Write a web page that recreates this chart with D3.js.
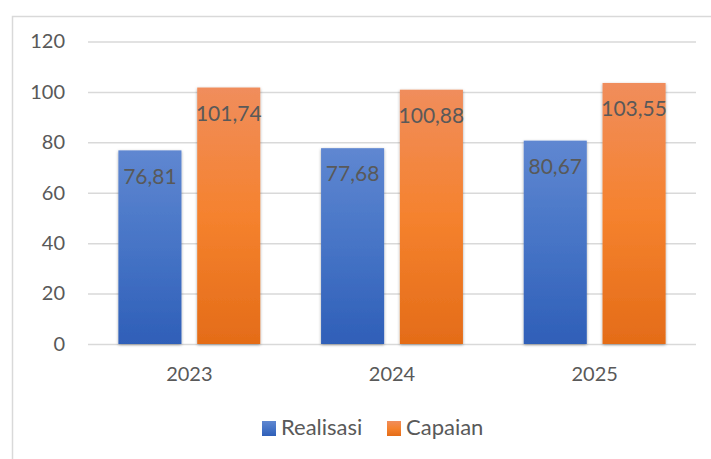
<!DOCTYPE html>
<html>
<head>
<meta charset="utf-8">
<script src="https://cdn.jsdelivr.net/npm/d3@7"></script>
<style>
  body { margin: 0; background: #fff; }
  svg text { font-family: Lato, "Open Sans", sans-serif; fill: #595959; }
</style>
</head>
<body>
<div id="chart"></div>
<script>
// Data
var years = ["2023", "2024", "2025"];
var seriesNames = ["Realisasi", "Capaian"];
var realisasi = [76.81, 77.68, 80.67];
var capaian = [101.74, 100.88, 103.55];
var yTicks = [0, 20, 40, 60, 80, 100, 120];

var svgWidth = 711;
var svgHeight = 459;

// plot area
var margin = { top: 41.5, right: 15, bottom: 115, left: 88 };
var width = svgWidth - margin.left - margin.right;
var height = svgHeight - margin.top - margin.bottom;

var svg = d3.select("#chart")
  .append("svg")
  .attr("width", svgWidth)
  .attr("height", svgHeight);

// gradients + shadow like the office chart
var defs = svg.append("defs");
function addGradient(id, stops) {
  var g = defs.append("linearGradient")
    .attr("id", id)
    .attr("x1", 0).attr("y1", 0).attr("x2", 0).attr("y2", 1);
  stops.forEach(function(s) {
    g.append("stop").attr("offset", s[0]).attr("stop-color", s[1]);
  });
}
addGradient("gradBlue", [[0, "#5f87d1"], [0.5, "#4674c6"], [1, "#2f5fb8"]]);
addGradient("gradOrange", [[0, "#f08d5c"], [0.5, "#f5822e"], [1, "#e46c18"]]);

var shadow = defs.append("filter").attr("id", "shadow")
  .attr("x", "-20%").attr("y", "-10%").attr("width", "140%").attr("height", "120%");
shadow.append("feDropShadow")
  .attr("dx", 0).attr("dy", 1).attr("stdDeviation", 1.5)
  .attr("flood-color", "#000").attr("flood-opacity", 0.35);

// outer chart border (runs off the right and bottom)
svg.append("rect")
  .attr("x", 12.5).attr("y", 16.5)
  .attr("width", 760).attr("height", 500)
  .attr("fill", "none")
  .attr("stroke", "#d9d9d9")
  .attr("stroke-width", 1.5);

var chartGroup = svg.append("g")
  .attr("transform", `translate(${margin.left}, ${margin.top})`);

// scales
var x0 = d3.scaleBand()
  .domain(years)
  .range([0, width])
  .paddingInner(0.3)
  .paddingOuter(0.15);

var x1 = d3.scaleBand()
  .domain(seriesNames)
  .range([0, x0.bandwidth()])
  .paddingInner(0.2);

var y = d3.scaleLinear()
  .domain([0, 120])
  .range([height, 0]);

// gridlines
var leftAxis = d3.axisLeft(y)
  .tickValues(yTicks)
  .tickSize(-width)
  .tickPadding(23);

var yAxis = chartGroup.append("g").call(leftAxis);
yAxis.select(".domain").remove();
yAxis.selectAll(".tick line")
  .attr("stroke", "#d9d9d9")
  .attr("stroke-width", 1.5);
yAxis.selectAll(".tick text")
  .style("font-size", "20px")
  .attr("fill", "#595959");

// x axis labels
var bottomAxis = d3.axisBottom(x0).tickSize(0).tickPadding(23);
var xAxis = chartGroup.append("g")
  .attr("transform", `translate(0, ${height})`)
  .call(bottomAxis);
xAxis.select(".domain").remove();
xAxis.selectAll(".tick text")
  .style("font-size", "20px")
  .attr("fill", "#595959");

// bars
var rows = years.map(function(yr, i) {
  return [
    { year: yr, name: "Realisasi", value: realisasi[i] },
    { year: yr, name: "Capaian", value: capaian[i] }
  ];
});
var fills = { "Realisasi": "url(#gradBlue)", "Capaian": "url(#gradOrange)" };

var groups = chartGroup.selectAll(".year")
  .data(rows)
  .enter()
  .append("g")
  .attr("class", "year")
  .attr("transform", d => `translate(${x0(d[0].year)}, 0)`);

groups.selectAll("rect")
  .data(d => d)
  .enter()
  .append("rect")
  .attr("x", d => x1(d.name))
  .attr("y", d => y(d.value))
  .attr("width", x1.bandwidth())
  .attr("height", d => height - y(d.value))
  .attr("fill", d => fills[d.name])
  .attr("filter", "url(#shadow)");

// value labels, inside end
groups.selectAll(".val")
  .data(d => d)
  .enter()
  .append("text")
  .attr("class", "val")
  .attr("x", d => x1(d.name) + x1.bandwidth() / 2)
  .attr("y", d => y(d.value) + 28)
  .attr("text-anchor", "middle")
  .attr("dominant-baseline", "middle")
  .style("font-size", "21px")
  .attr("fill", "#404040")
  .text(d => d3.format(".2f")(d.value).replace(".", ","));

// legend
var legendPos = [262, 387];
var legend = svg.append("g");
seriesNames.forEach(function(name, i) {
  legend.append("rect")
    .attr("x", legendPos[i])
    .attr("y", 421)
    .attr("width", 14)
    .attr("height", 15)
    .attr("fill", fills[name]);
  legend.append("text")
    .attr("x", legendPos[i] + 19)
    .attr("y", 429)
    .attr("dominant-baseline", "middle")
    .style("font-size", "22px")
    .attr("fill", "#595959")
    .text(name);
});
</script>
</body>
</html>
